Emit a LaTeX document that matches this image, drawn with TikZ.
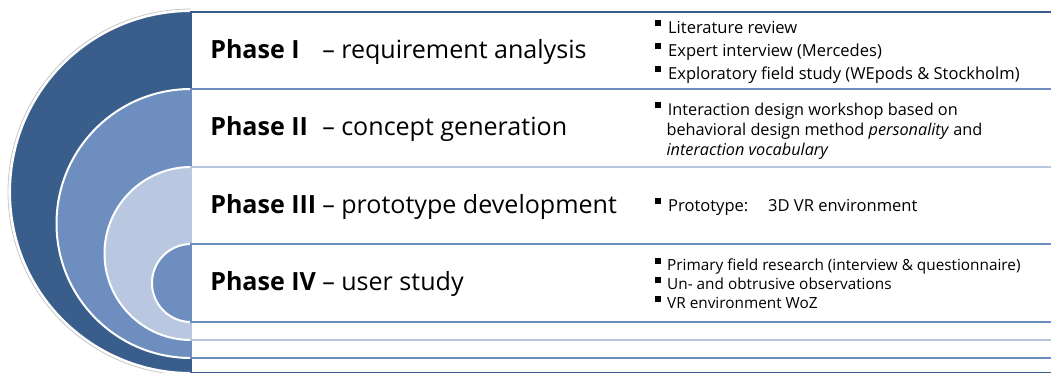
\documentclass[tikz,border=0pt]{standalone}
\usepackage{fontspec}
\setmainfont{Open Sans}

\definecolor{ringdark}{RGB}{58,94,140}
\definecolor{ringmid}{RGB}{111,142,192}
\definecolor{ringlight}{RGB}{186,199,224}

\tikzset{
	halfdisc/.style={draw=white, line width=1.5pt},
	rowbox/.style={fill=white, line width=1.5pt},
	phase/.style={anchor=base west, inner sep=0pt, font=\fontsize{18.8}{22}\selectfont},
	items/.style={anchor=north west, inner sep=0pt, align=left, font=\fontsize{12.4}{17.3}\selectfont},
}
% title of one phase: bold name in a fixed box, then its topic
\newcommand\phasetitle[2]{\makebox[84pt][l]{\bfseries #1}-- #2}
% small filled square in front of a list line
\newcommand\sqbullet{\raisebox{0.8ex}{\rule{0.36em}{0.36em}}\hspace{0.42em}}

\begin{document}
\begin{tikzpicture}[x=0.75pt,y=0.75pt,yscale=-1,xscale=1]
	\useasboundingbox (0,0) rectangle (1051,372);
	\clip (0,0) rectangle (1051,372);
	
	%Half discs, outermost first
	\draw [color=black!22, line width=0.6pt] (191,9) arc [start angle=270, end angle=90, radius=183];
	\filldraw [halfdisc, fill=ringdark] (191,11) arc [start angle=270, end angle=90, radius=181] -- cycle;
	\filldraw [halfdisc, fill=ringmid] (191,89) arc [start angle=270, end angle=90, radius=134.5] -- cycle;
	\filldraw [halfdisc, fill=ringlight] (191,167) arc [start angle=270, end angle=90, radius=86.5] -- cycle;
	\filldraw [halfdisc, fill=ringmid] (191,244) arc [start angle=270, end angle=90, radius=39] -- cycle;
	
	%Rows, nested like the discs
	\draw [rowbox, draw=ringdark] (191,12) rectangle (1060,373);
	\draw [rowbox, draw=ringmid] (191,89) rectangle (1060,358);
	\draw [rowbox, draw=ringlight] (191,167) rectangle (1060,340);
	\draw [rowbox, draw=ringmid] (191,244) rectangle (1060,322);
	
	% Phase titles
	\node [phase] (ph1) at (210,58) {\phasetitle{Phase I}{requirement analysis}};
	\node [phase] (ph2) at (210,135) {\phasetitle{Phase II}{concept generation}};
	\node [phase] (ph3) at (210,213) {\phasetitle{Phase III}{prototype development}};
	\node [phase] (ph4) at (210,290) {\phasetitle{Phase IV}{user study}};
	
	% Methods per phase
	\node [items] (m1) at (655,20) {\sqbullet Literature review\\
		\sqbullet Expert interview (Mercedes)\\
		\sqbullet Exploratory field study (WEpods \& Stockholm)};
	\node [items, font=\fontsize{12.2}{15.3}\selectfont] (m2) at (655,102) {\sqbullet Interaction design workshop based on\\
		\hspace*{8.5pt}behavioral design method \textit{personality} and\\
		\hspace*{8.5pt}\textit{interaction vocabulary}};
	\node [items] (m3) at (655,198) {\sqbullet Prototype:\hspace{1.2em}3D VR environment};
	\node [items, font=\fontsize{11.5}{14.3}\selectfont] (m4) at (655,258) {\sqbullet Primary field research (interview \& questionnaire)\\
		\sqbullet Un- and obtrusive observations\\
		\sqbullet VR environment WoZ};
	
\end{tikzpicture}
\end{document}
